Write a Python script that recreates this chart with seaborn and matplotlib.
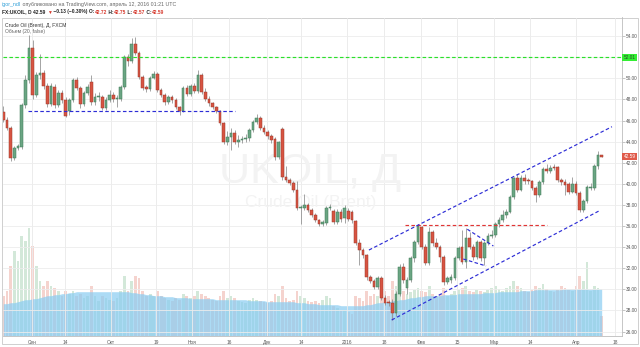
import numpy as np
import pandas as pd
import matplotlib
matplotlib.use("Agg")
import matplotlib.pyplot as plt
import seaborn as sns

# ---------------- data ----------------
opens = [46.81, 46.06, 45.30, 42.45, 43.40, 43.50, 47.48, 49.85, 52.88, 48.43,
         50.32, 50.51, 49.28, 47.57, 49.18, 47.48, 48.62, 47.95, 46.91, 47.95,
         49.85, 49.09, 47.57, 48.62, 49.66, 47.76, 48.24, 48.24, 47.19, 47.95,
         48.43, 48.05, 48.05, 49.18, 52.03, 51.65, 53.26, 52.41, 50.13, 49.18,
         48.99, 50.04, 50.42, 48.90, 48.43, 47.76, 48.24, 47.95, 47.29, 46.91,
         49.09, 48.52, 49.28, 48.81, 50.32, 48.71, 48.05, 47.67, 47.29, 46.91,
         45.77, 43.97, 44.45, 44.82, 43.97, 44.16, 44.26, 44.35, 45.11, 45.87,
         46.25, 45.30, 44.92, 44.54, 44.26, 42.55, 45.20, 40.65, 40.37, 40.08,
         39.42, 37.72, 37.72, 38.00, 37.53, 37.05, 36.58, 36.20, 36.29, 37.72,
         37.43, 36.39, 37.34, 36.77, 37.43, 37.34, 36.48, 34.40, 33.73, 33.26,
         31.17, 30.80, 30.23, 31.08, 29.18, 28.80, 28.71, 27.76, 29.56, 32.12,
         30.13, 30.89, 32.98, 34.49, 35.91, 34.02, 32.50, 35.44, 34.40, 34.02,
         33.07, 30.70, 30.89, 31.08, 32.98, 34.02, 32.60, 34.87, 34.02, 33.07,
         34.49, 32.98, 34.40, 35.06, 35.16, 36.20, 36.58, 37.05, 37.34, 38.76,
         40.56, 39.42, 40.56, 40.37, 40.27, 39.61, 38.95, 40.18, 41.41, 41.22,
         41.60, 41.60, 40.37, 40.18, 39.99, 39.23, 39.99, 39.14, 37.53, 38.38,
         39.61, 39.61, 41.70, 42.72]
closes = [46.06, 45.30, 42.45, 43.40, 43.59, 47.48, 49.85, 52.88, 48.43, 50.32,
          50.51, 49.28, 47.57, 49.28, 47.48, 48.62, 47.95, 46.44, 47.95, 49.85,
          49.09, 47.57, 48.62, 49.18, 47.76, 48.24, 48.33, 47.19, 47.95, 48.43,
          48.05, 48.14, 49.18, 52.03, 51.65, 53.26, 52.41, 50.13, 49.09, 48.99,
          50.04, 50.42, 48.90, 48.43, 47.76, 48.24, 47.95, 47.29, 46.91, 49.09,
          48.52, 49.28, 48.81, 50.32, 48.71, 48.05, 47.67, 47.29, 46.91, 45.77,
          43.97, 44.45, 44.82, 43.97, 44.16, 44.26, 44.35, 45.11, 45.87, 46.25,
          45.30, 44.92, 44.54, 44.16, 42.55, 43.97, 40.65, 40.37, 40.08, 39.42,
          37.72, 37.81, 38.00, 37.53, 37.05, 36.58, 36.20, 36.39, 37.72, 37.81,
          36.39, 37.34, 36.67, 37.72, 36.67, 36.58, 34.40, 33.73, 33.26, 31.17,
          30.80, 30.23, 31.08, 29.18, 28.71, 28.71, 27.76, 29.56, 32.12, 30.89,
          30.89, 32.98, 34.49, 36.01, 34.02, 32.50, 35.44, 34.40, 34.02, 33.07,
          30.70, 31.08, 31.17, 32.98, 33.92, 32.60, 34.87, 34.02, 33.07, 34.49,
          32.98, 34.40, 35.06, 35.16, 36.20, 36.58, 37.05, 37.34, 38.76, 40.56,
          39.42, 40.56, 40.27, 40.27, 39.61, 38.95, 40.18, 41.41, 41.22, 41.51,
          41.51, 40.37, 40.18, 39.90, 39.23, 39.99, 39.14, 37.53, 38.38, 39.71,
          39.71, 41.70, 42.72, 42.59]
highs = [47.4, 46.3, 45.5, 43.6, 43.8, 47.7, 50.3, 54.1, 53.6, 50.6,
         52.3, 50.8, 49.6, 49.6, 49.5, 48.9, 48.9, 48.2, 48.1, 50.0,
         50.1, 49.3, 48.8, 49.5, 50.3, 48.6, 48.7, 48.4, 48.2, 48.9,
         48.7, 48.4, 49.4, 52.2, 52.3, 53.8, 53.9, 52.6, 50.3, 49.4,
         50.2, 50.7, 50.6, 49.1, 48.6, 48.4, 48.4, 48.1, 47.4, 49.3,
         49.4, 49.5, 49.6, 50.8, 50.5, 49.1, 48.3, 47.8, 47.4, 47.0,
         45.9, 45.0, 45.3, 45.1, 44.6, 44.5, 44.7, 45.3, 46.1, 46.6,
         46.4, 45.6, 45.1, 44.7, 44.4, 44.1, 45.4, 41.7, 40.6, 40.3,
         40.3, 38.0, 39.0, 38.2, 37.7, 37.2, 36.7, 36.6, 37.9, 38.1,
         37.6, 37.6, 37.6, 38.0, 37.7, 37.5, 36.6, 34.8, 33.9, 33.4,
         31.4, 31.0, 31.3, 31.3, 29.5, 29.0, 29.1, 29.8, 32.4, 32.5,
         31.2, 33.2, 34.7, 36.2, 36.0, 34.3, 35.9, 35.6, 34.9, 34.2,
         33.3, 31.3, 31.5, 33.2, 34.1, 35.6, 35.8, 35.4, 34.3, 34.7,
         34.7, 34.6, 35.3, 35.6, 36.4, 36.9, 37.5, 37.6, 38.9, 40.7,
         40.9, 40.8, 40.9, 40.6, 40.4, 39.8, 40.4, 41.6, 41.9, 41.8,
         41.9, 41.7, 40.6, 40.5, 40.2, 40.7, 40.3, 39.3, 38.6, 39.9,
         40.1, 41.9, 43.1, 42.75]
lows = [45.9, 45.1, 42.2, 42.3, 43.2, 43.3, 47.2, 49.6, 48.0, 48.2,
        49.9, 49.0, 47.3, 47.4, 47.2, 47.3, 47.7, 46.3, 46.5, 47.8,
        48.9, 47.2, 47.4, 48.4, 47.5, 47.5, 47.9, 47.0, 47.0, 47.8,
        47.8, 47.3, 47.9, 49.0, 51.2, 51.5, 52.2, 49.9, 48.9, 48.7,
        48.8, 49.9, 48.7, 48.2, 47.5, 47.6, 47.7, 47.1, 46.5, 46.8,
        48.3, 48.3, 48.6, 48.6, 48.5, 47.9, 47.4, 47.1, 46.7, 45.6,
        43.8, 43.7, 43.2, 43.8, 43.5, 43.9, 44.0, 44.1, 44.9, 45.7,
        45.1, 44.7, 44.3, 43.9, 42.3, 42.4, 40.4, 40.2, 39.9, 39.2,
        37.5, 36.2, 37.5, 37.3, 36.9, 36.4, 36.0, 36.0, 36.1, 37.5,
        36.2, 36.2, 36.4, 36.3, 36.5, 36.3, 34.2, 32.3, 33.0, 30.9,
        30.6, 30.0, 30.0, 29.0, 28.5, 28.4, 27.1, 27.5, 29.4, 30.6,
        29.6, 30.7, 32.6, 34.3, 33.8, 32.3, 32.3, 34.1, 33.8, 32.6,
        30.4, 30.5, 30.6, 30.9, 32.8, 32.4, 32.0, 33.8, 32.8, 32.9,
        32.7, 32.3, 34.2, 34.9, 35.0, 35.9, 36.4, 36.8, 37.2, 38.6,
        39.2, 39.3, 40.0, 40.0, 39.4, 38.3, 38.8, 40.0, 41.0, 41.0,
        41.3, 40.2, 39.9, 38.9, 39.0, 39.1, 38.9, 37.3, 37.3, 38.2,
        39.4, 39.4, 41.4, 42.57]
volumes = [40, 45, 70, 85, 75, 100, 95, 108, 90, 70,
           55, 50, 55, 50, 48, 45, 40, 45, 42, 45,
           40, 42, 38, 40, 50, 40, 35, 40, 38, 36,
           35, 38, 45, 60, 45, 55, 60, 58, 45, 40,
           42, 40, 45, 40, 38, 36, 35, 38, 36, 42,
           40, 38, 40, 45, 42, 40, 38, 36, 35, 40,
           45, 38, 40, 38, 35, 34, 33, 36, 38, 36,
           35, 34, 33, 35, 42, 40, 50, 38, 35, 36,
           45, 40, 38, 35, 34, 35, 33, 36, 40, 38,
           30, 28, 25, 26, 24, 22, 40, 38, 35, 45,
           40, 42, 40, 48, 45, 40, 55, 50, 52, 45,
           42, 44, 46, 48, 45, 44, 50, 42, 40, 42,
           48, 40, 42, 45, 46, 48, 50, 45, 44, 46,
           45, 44, 46, 48, 50, 47, 45, 48, 50, 55,
           50, 48, 45, 44, 46, 50, 48, 52, 47, 45,
           44, 46, 50, 48, 46, 45, 50, 60, 55, 74,
           45, 50, 48, 20]
# 20-period volume average as drawn by the chart (its window reaches back
# before the first visible bar)
volume_ma = [32, 32, 33, 33, 34, 35, 36, 36, 37, 37,
             38, 39, 40, 40, 41, 41, 42, 42, 43, 43,
             44, 44, 44, 44, 44, 44, 44, 44, 44, 44,
             44, 44, 44, 44, 44, 43, 43, 42, 42, 41,
             41, 40, 40, 40, 39, 39, 39, 38, 38, 38,
             38, 37, 37, 37, 37, 37, 37, 37, 36, 36,
             36, 36, 36, 36, 36, 36, 36, 35, 35, 35,
             35, 35, 34, 34, 34, 34, 34, 34, 34, 34,
             33, 33, 33, 32, 32, 32, 31, 31, 31, 31,
             31, 31, 30, 30, 30, 30, 30, 30, 30, 31,
             31, 32, 33, 33, 34, 34, 35, 35, 36, 36,
             37, 38, 38, 39, 39, 40, 40, 40, 40, 40,
             41, 41, 41, 41, 42, 42, 42, 42, 42, 42,
             42, 43, 43, 43, 43, 44, 44, 44, 44, 44,
             44, 45, 45, 45, 45, 46, 46, 46, 46, 46,
             46, 46, 46, 47, 47, 47, 47, 47, 47, 47,
             47, 47, 47, 47]

tick_labels = ["Сен", "14", "Окт", "19", "Ноя", "16", "Дек", "14", "2016", "18",
               "Фев", "15", "Мар", "14", "Апр", "18"]
tick_bars = [7.8, 16.8, 29.3, 41.6, 51.4, 61.5, 71.9, 81.1, 93.7, 103.7,
             113.8, 123.6, 133.7, 143.5, 156.0, 166.7]
price_ticks = [26, 28, 30, 32, 34, 36, 38, 40, 42, 44, 46, 48, 50, 52, 54]

# user drawings (bar index, price)
resistance_level = 52.01
support_level = 46.94
support_span = [6.7, 63.1]
channel_upper = [(99.6, 33.73), (165.8, 45.42)]
channel_lower = [(105.8, 27.10), (162.4, 37.46)]
red_level = 36.10
red_span = [109.5, 148.1]
flag_upper = [(126.4, 35.70), (133.5, 34.11)]
flag_lower = [(125.3, 32.88), (131.5, 32.22)]

# ---------------- figure ----------------
sns.set_theme(style="white")
plt.rcParams["font.family"] = ["Liberation Sans", "DejaVu Sans"]

W, H = 640, 347
fig = plt.figure(figsize=(W / 100, H / 100), dpi=100)
fig.patch.set_facecolor("white")

px_l, px_r, px_t, px_b = 3, 621.5, 17.5, 335.7
rect = [px_l / W, 1 - px_b / H, (px_r - px_l) / W, (px_b - px_t) / H]
ax = fig.add_axes(rect)
axv = ax.twinx()
ax.set_zorder(2)
ax.patch.set_visible(False)
axv.set_zorder(1)

df = pd.DataFrame({"open": opens, "close": closes, "high": highs, "low": lows,
                   "volume": volumes, "vma": volume_ma})
df["bar"] = np.arange(len(df))
df["dir"] = np.where(df["close"] >= df["open"], "up", "down")

up_c, dn_c = "#6ba583", "#d75442"
up_e, dn_e = "#3d7a56", "#9c3a2c"

# volume
sns.barplot(data=df, x="bar", y="volume", hue="dir", native_scale=True,
            palette={"up": "#d3e8d9", "down": "#f5d3ce"}, width=0.75,
            ax=axv, legend=False, saturation=1, linewidth=0)
axv.fill_between(df["bar"], 0, df["vma"], color="#8ccdf2", alpha=0.72,
                 linewidth=0)
axv.set_ylim(0, px_b - px_t)
axv.set_yticks([])
axv.set_ylabel("")
axv.set_xlabel("")
for s in axv.spines.values():
    s.set_visible(False)

# candles
for d, fc, ec in (("up", up_c, up_e), ("down", dn_c, dn_e)):
    sub = df[df["dir"] == d]
    ax.vlines(sub["bar"], sub["low"], sub["high"], color="#8c8c8c", lw=0.55, zorder=3)
    bottom = sub[["open", "close"]].min(axis=1)
    height = (sub["close"] - sub["open"]).abs().clip(lower=0.06)
    ax.bar(sub["bar"], height, bottom=bottom, width=0.72, color=fc,
           edgecolor=ec, linewidth=0.35, zorder=4)

# drawings
x0, x1 = -0.08, 168.4
dash = (0, (3, 2))
ax.plot([x0, x1], [resistance_level] * 2, color="#2be02b", lw=0.85, ls=dash, zorder=5)
ax.plot(support_span, [support_level] * 2, color="#2d2dd6", lw=0.85, ls=dash, zorder=5)
ax.plot(red_span, [red_level] * 2, color="#e03535", lw=0.85, ls=dash, zorder=5)
for seg in (channel_upper, channel_lower, flag_upper, flag_lower):
    ax.plot([p[0] for p in seg], [p[1] for p in seg], color="#2d2dd6", lw=0.85,
            ls=dash, zorder=5)

ax.set_xlim(x0, x1)
ax.set_ylim(57.431 - px_b * 0.09479, 57.431 - px_t * 0.09479)
axv.set_xlim(x0, x1)

# grid
for b in tick_bars:
    ax.axvline(b, color="#ececec", lw=0.6, zorder=0)
    axv.axvline(b, color="#ececec", lw=0.6, zorder=0)
for p in price_ticks:
    ax.axhline(p, color="#ececec", lw=0.6, zorder=0)

ax.yaxis.tick_right()
ax.set_yticks(price_ticks)
# the 52.00 label is hidden behind the level's box on the reference
ax.set_yticklabels(["" if p == 52 else f"{p:.2f}" for p in price_ticks])
ax.set_xticks(tick_bars)
ax.set_xticklabels(tick_labels)
ax.tick_params(axis="both", which="both", labelsize=3.4, colors="#9a9a9a",
               labelcolor="#555555", length=2, width=0.4, pad=1.2, direction="out")
for k, s in ax.spines.items():
    s.set_visible(k in ("right", "bottom"))
    s.set_color("#bdbdbd")
    s.set_linewidth(0.6)

# price labels on the axis
def axis_label(price, text, fc, tc):
    ax.annotate(text, xy=(1.0, price), xycoords=("axes fraction", "data"),
                xytext=(1.5, 0), textcoords="offset points", va="center", ha="left",
                fontsize=3.4, color=tc, annotation_clip=False, zorder=10,
                bbox=dict(boxstyle="square,pad=0.25", fc=fc, ec="none"))

axis_label(resistance_level, "52.01", "#33ee33", "#2a4a2a")
axis_label(closes[-1], "42.59", "#e05b4b", "white")

# watermark
ax.text(0.497, 0.515, "UKOIL, Д", transform=ax.transAxes, fontsize=31,
        color="#f3f3f3", ha="center", va="center", zorder=1)
ax.text(0.497, 0.42, "Crude Oil (Brent)", transform=ax.transAxes, fontsize=12.5,
        color="#f3f3f3", ha="center", va="center", zorder=1)

# legend texts in the pane
fig.text(5 / W, 1 - 25 / H, "Crude Oil (Brent), Д, FXCM", fontsize=3.6, color="#333333",
         va="center", ha="left")
fig.text(5 / W, 1 - 31.7 / H, "Объем (20, false)", fontsize=3.6, color="#666666",
         va="center", ha="left")

# header (sequential coloured pieces)
renderer = fig.canvas.get_renderer()

def seq(x, y, parts, weight="normal", size=3.6):
    for s, c in parts:
        t = fig.text(x / W, 1 - y / H, s, fontsize=size, color=c, va="center",
                     ha="left", fontweight=weight)
        x = t.get_window_extent(renderer).x1 + 0.2

seq(2, 4.5, [("igor_ndl", "#2f9fd8"),
             (" опубликовано на TradingView.com, апрель 12, 2016 01:21 UTC", "#666666")],
    size=3.75)
seq(2, 12, [("FX:UKOIL, D 42.59 ", "#222222"), ("▼", "#d63a2e"),
            (" −0.13 (−0.30%) O:", "#222222"), ("42.72", "#d63a2e"),
            (" H:", "#222222"), ("42.75", "#d63a2e"), (" L:", "#222222"),
            ("42.57", "#d63a2e"), (" C:", "#222222"), ("42.59", "#d63a2e")],
    weight="bold", size=3.5)

# outer frame
frame = plt.Rectangle((2 / W, 1 - 344 / H), (637.5 - 2) / W, (344 - 17.5) / H,
                      transform=fig.transFigure, fill=False, ec="#c8c8c8", lw=0.6)
fig.patches.append(frame)

fig.savefig("out.png", dpi=100, facecolor="white")
